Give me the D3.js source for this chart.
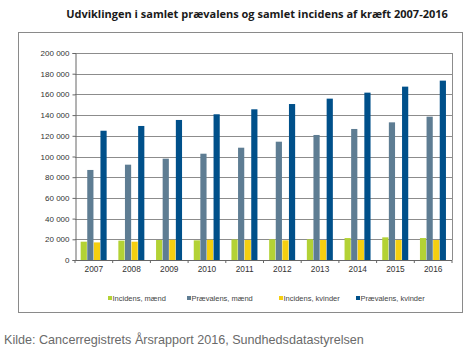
<!DOCTYPE html>
<html><head><meta charset="utf-8">
<script src="https://cdn.jsdelivr.net/npm/d3@7"></script>
<style>body{margin:0;background:#fff}</style>
</head><body>
<script>
const years = ["2007","2008","2009","2010","2011","2012","2013","2014","2015","2016"];
const seriesNames = ["Incidens, mænd","Prævalens, mænd","Incidens, kvinder","Prævalens, kvinder"];
const incidensMaend   = [17700,18700,19300,19000,19800,20000,20000,21200,21900,21200];
const praevalensMaend = [87000,92100,97900,102700,108500,114300,120800,126600,133000,138500];
const incidensKvinder = [17000,17700,19500,19500,19300,19000,19300,19300,19300,19300];
const praevalensKvinder = [124900,129500,135300,140800,145600,150700,155900,161700,167500,173300];
const yTicks = [0,20000,40000,60000,80000,100000,120000,140000,160000,180000,200000];
const colors = ["#b3d235","#5e7d93","#f5cf10","#00508a"];
const allSeries = [incidensMaend, praevalensMaend, incidensKvinder, praevalensKvinder];

const W=470,H=355;
const svg=d3.select("body").append("svg").attr("width",W).attr("height",H);
svg.append("rect").attr("width",W).attr("height",H).attr("fill","#fff");

// title
svg.append("text").attr("x",257).attr("y",18).attr("text-anchor","middle")
  .attr("font-family","Open Sans").attr("font-weight","bold").attr("font-size",11)
  .attr("fill","#1a1a1a").text("Udviklingen i samlet prævalens og samlet incidens af kræft 2007-2016");

// outer frame
svg.append("rect").attr("x",18.5).attr("y",32.5).attr("width",444).attr("height",280)
  .attr("fill","none").attr("stroke","#8a8a8a").attr("stroke-width",1);

const x0=75,x1=452,yTop=53,yBot=260;
const x=d3.scaleBand().domain(years).range([x0,x1]).paddingInner(0.3).paddingOuter(0.15);
const xs=d3.scaleBand().domain(d3.range(4)).range([0,x.bandwidth()]);
const y=d3.scaleLinear().domain([0,200000]).range([yBot,yTop]);

// grid
svg.append("g").selectAll("line").data(yTicks.slice(1)).join("line")
  .attr("x1",x0).attr("x2",x1).attr("y1",d=>Math.round(y(d))+0.5).attr("y2",d=>Math.round(y(d))+0.5)
  .attr("stroke","#8c8c8c").attr("stroke-width",1);
// right border
svg.append("line").attr("x1",x1+0.5).attr("x2",x1+0.5).attr("y1",yTop).attr("y2",yBot).attr("stroke","#8c8c8c");

// bars
const g=svg.append("g");
years.forEach((yr,i)=>{
  allSeries.forEach((s,k)=>{
    g.append("rect").attr("x",x(yr)+xs(k)).attr("width",xs.bandwidth()-0.4)
     .attr("y",y(s[i])).attr("height",y(0)-y(s[i])).attr("fill",colors[k]);
  });
});

// y axis
const ya=svg.append("g").attr("transform",`translate(${x0+0.5},0)`)
  .call(d3.axisLeft(y).tickValues(yTicks).tickSize(3).tickPadding(3)
  .tickFormat(d=>d3.format(",")(d).replace(/,/g," ")));
ya.selectAll("text").attr("font-family","Liberation Sans, Arial").attr("font-size",8).attr("fill","#333");
ya.selectAll("line,path").attr("stroke","#666");

// x axis
const xa=svg.append("g").attr("transform",`translate(0,${yBot+0.5})`)
  .call(d3.axisBottom(x).tickSize(0).tickPadding(6));
xa.select("path").attr("stroke","#666").attr("d",`M${x0},0H${x1}`);
xa.selectAll("text").attr("font-family","Liberation Sans, Arial").attr("font-size",8.3).attr("fill","#333");
// category boundary ticks
svg.append("g").selectAll("line").data(d3.range(11)).join("line")
  .attr("x1",d=>x0+d*(x1-x0)/10).attr("x2",d=>x0+d*(x1-x0)/10)
  .attr("y1",yBot).attr("y2",yBot+3).attr("stroke","#666");

// legend
const legX=[108,187,279,356];
const leg=svg.append("g");
seriesNames.forEach((n,k)=>{
  leg.append("rect").attr("x",legX[k]).attr("y",296).attr("width",4).attr("height",4).attr("fill",colors[k]);
  leg.append("text").attr("x",legX[k]+4.5).attr("y",300.5).attr("font-family","Liberation Sans, Arial")
    .attr("font-size",7.5).attr("fill","#444").text(n);
});

// source
svg.append("text").attr("x",4).attr("y",344).attr("font-family","Liberation Sans, Arial")
  .attr("font-size",12.6).attr("fill","#6a6a6a").text("Kilde: Cancerregistrets Årsrapport 2016, Sundhedsdatastyrelsen");
</script>
</body></html>
